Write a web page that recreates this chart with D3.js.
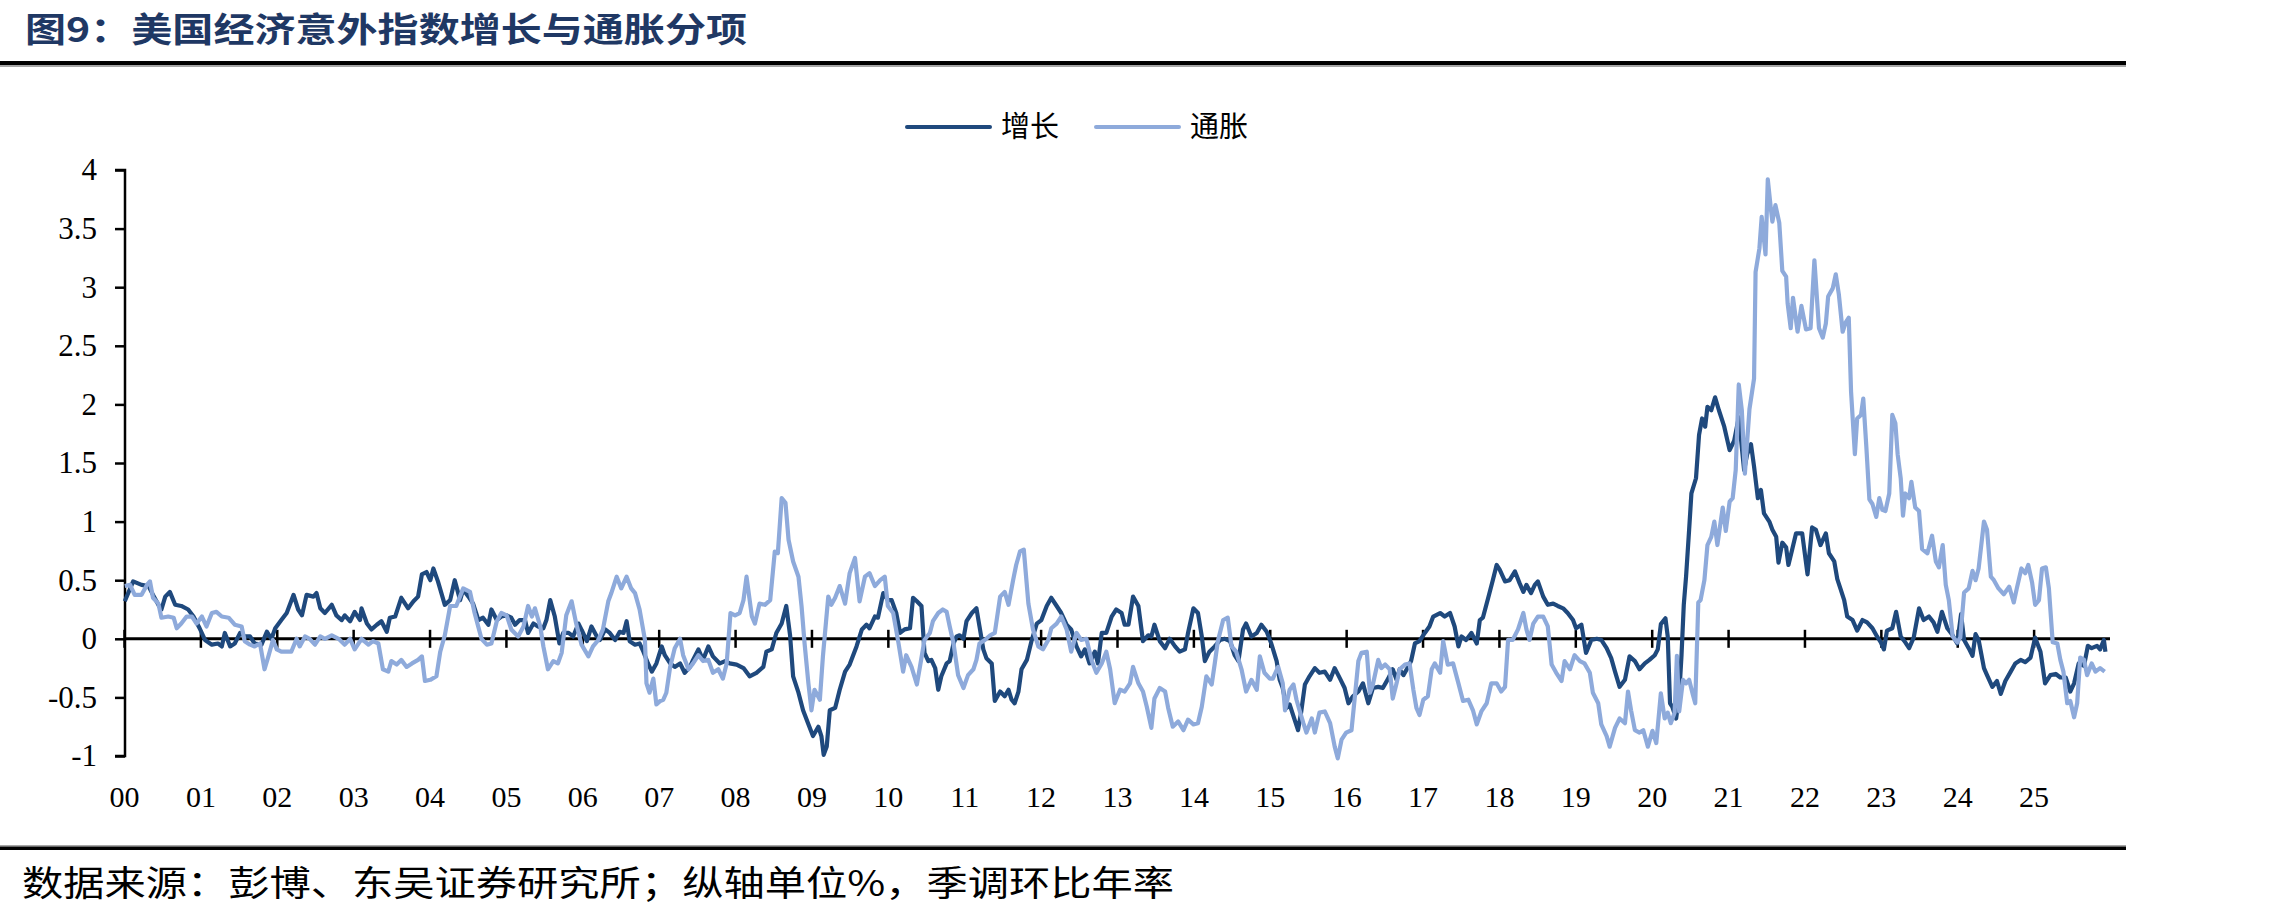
<!DOCTYPE html>
<html>
<head>
<meta charset="utf-8">
<script src="https://cdn.jsdelivr.net/npm/d3@7"></script>
<style>
  body { margin: 0; background: #fff; }
  svg { display: block; }
</style>
</head>
<body>
<svg id="main" width="2280" height="918"></svg>
<script>
// years since 2000 / surprise index value (%)
const xTickLabels = ["00","01","02","03","04","05","06","07","08","09","10","11","12","13","14","15","16","17","18","19","20","21","22","23","24","25"];
const yTicks = [-1, -0.5, 0, 0.5, 1, 1.5, 2, 2.5, 3, 3.5, 4];
const seriesNames = ["增长", "通胀"];

const growth = [
  [0.01,0.32],[0.12,0.49],[0.23,0.46],[0.32,0.45],[0.38,0.375],[0.45,0.29],[0.49,0.25],[0.54,0.36],[0.60,0.40],[0.67,0.29],[0.75,0.28],[0.84,0.25],[0.91,0.19],[0.99,0.09],
  [1.06,-0.01],[1.15,-0.05],[1.23,-0.04],[1.28,-0.065],[1.32,0.05],[1.39,-0.065],[1.45,-0.04],[1.52,0.05],[1.58,0.02],[1.65,0.02],[1.71,-0.04],[1.80,-0.05],[1.87,0.06],[1.93,0.0],[1.98,0.09],
  [2.06,0.16],[2.13,0.22],[2.22,0.375],[2.28,0.25],[2.33,0.2],[2.39,0.375],[2.48,0.36],[2.52,0.39],[2.57,0.26],[2.63,0.22],[2.72,0.29],[2.78,0.2],[2.85,0.16],[2.89,0.2],[2.96,0.15],
  [3.02,0.23],[3.09,0.16],[3.11,0.26],[3.18,0.13],[3.24,0.08],[3.31,0.12],[3.37,0.15],[3.44,0.06],[3.48,0.18],[3.55,0.19],[3.63,0.35],[3.72,0.26],[3.79,0.32],[3.85,0.36],[3.90,0.55],[3.96,0.57],
  [4.01,0.5],[4.05,0.6],[4.11,0.49],[4.20,0.29],[4.27,0.33],[4.33,0.5],[4.40,0.33],[4.44,0.42],[4.51,0.36],[4.57,0.30],[4.64,0.16],[4.70,0.18],[4.77,0.12],[4.81,0.25],[4.88,0.16],[4.94,0.19],
  [5.01,0.2],[5.07,0.18],[5.12,0.12],[5.18,0.16],[5.25,0.16],[5.29,0.05],[5.36,0.13],[5.42,0.105],[5.49,0.09],[5.53,0.16],[5.58,0.33],[5.64,0.19],[5.70,-0.04],[5.75,0.05],[5.82,0.05],[5.88,0.02],[5.95,0.13],
  [6.01,0.05],[6.06,-0.02],[6.12,0.105],[6.19,0.02],[6.23,-0.01],[6.30,0.08],[6.36,0.05],[6.43,-0.01],[6.49,0.06],[6.54,0.05],[6.58,0.15],[6.62,-0.02],[6.69,-0.05],[6.75,-0.04],[6.80,-0.11],[6.86,-0.21],[6.91,-0.28],[6.97,-0.21],
  [7.04,-0.065],[7.08,-0.14],[7.15,-0.21],[7.21,-0.24],[7.28,-0.21],[7.34,-0.29],[7.41,-0.24],[7.45,-0.18],[7.52,-0.09],[7.58,-0.18],[7.65,-0.065],[7.71,-0.15],[7.80,-0.21],[7.87,-0.19],[7.93,-0.21],
  [8.02,-0.22],[8.11,-0.25],[8.19,-0.32],[8.28,-0.29],[8.37,-0.24],[8.41,-0.11],[8.48,-0.09],[8.54,0.05],[8.61,0.13],[8.67,0.28],[8.72,0.03],[8.76,-0.32],[8.83,-0.46],[8.89,-0.61],[8.96,-0.73],
  [9.02,-0.83],[9.09,-0.75],[9.13,-0.83],[9.16,-0.99],[9.20,-0.92],[9.24,-0.61],[9.31,-0.59],[9.37,-0.435],[9.44,-0.28],[9.50,-0.22],[9.59,-0.065],[9.66,0.08],[9.72,0.12],[9.76,0.09],[9.83,0.19],[9.87,0.18],[9.94,0.39],
  [10.00,0.33],[10.05,0.33],[10.11,0.22],[10.16,0.05],[10.22,0.08],[10.29,0.09],[10.33,0.35],[10.38,0.32],[10.44,0.28],[10.48,-0.12],[10.53,-0.19],[10.57,-0.18],[10.62,-0.25],[10.66,-0.435],[10.70,-0.32],[10.77,-0.21],[10.81,-0.19],[10.86,-0.04],[10.90,0.02],[10.94,0.03],[10.99,0.0],
  [11.03,0.15],[11.10,0.22],[11.16,0.26],[11.20,0.105],[11.25,-0.09],[11.29,-0.165],[11.36,-0.21],[11.40,-0.53],[11.47,-0.45],[11.53,-0.49],[11.58,-0.435],[11.62,-0.52],[11.66,-0.55],[11.71,-0.45],[11.75,-0.26],[11.82,-0.18],[11.88,-0.02],[11.95,0.13],
  [12.01,0.16],[12.08,0.28],[12.14,0.35],[12.21,0.28],[12.27,0.22],[12.34,0.12],[12.40,0.08],[12.47,-0.065],[12.53,-0.15],[12.58,-0.09],[12.64,-0.21],[12.71,-0.11],[12.75,-0.21],[12.80,0.05],[12.86,0.05],[12.93,0.19],[12.99,0.25],
  [13.06,0.22],[13.10,0.12],[13.15,0.12],[13.21,0.36],[13.28,0.28],[13.34,-0.02],[13.41,0.03],[13.45,0.02],[13.49,0.12],[13.56,-0.02],[13.63,-0.08],[13.69,0.0],[13.76,-0.065],[13.82,-0.11],[13.89,-0.09],[13.93,0.05],
  [14.00,0.26],[14.06,0.22],[14.11,0.02],[14.15,-0.19],[14.21,-0.11],[14.28,-0.065],[14.35,-0.01],[14.41,0.0],[14.48,-0.02],[14.54,-0.14],[14.59,-0.19],[14.65,0.08],[14.69,0.13],[14.76,0.02],[14.83,0.05],[14.89,0.12],[14.96,0.06],
  [15.02,-0.04],[15.09,-0.19],[15.13,-0.35],[15.17,-0.42],[15.22,-0.59],[15.26,-0.56],[15.31,-0.66],[15.37,-0.78],[15.41,-0.63],[15.46,-0.39],[15.52,-0.32],[15.59,-0.25],[15.65,-0.29],[15.72,-0.28],[15.79,-0.35],[15.85,-0.25],[15.92,-0.34],[15.98,-0.42],
  [16.03,-0.55],[16.09,-0.49],[16.16,-0.45],[16.22,-0.38],[16.29,-0.55],[16.35,-0.42],[16.42,-0.41],[16.48,-0.42],[16.55,-0.34],[16.61,-0.26],[16.66,-0.35],[16.70,-0.26],[16.75,-0.31],[16.81,-0.24],[16.85,-0.19],[16.90,-0.04],[16.96,-0.02],
  [17.03,0.05],[17.09,0.105],[17.14,0.19],[17.23,0.22],[17.29,0.19],[17.36,0.22],[17.42,0.105],[17.47,-0.065],[17.51,0.02],[17.57,-0.01],[17.64,0.05],[17.71,-0.04],[17.75,0.16],[17.79,0.18],[17.86,0.35],[17.92,0.50],[17.97,0.63],
  [18.01,0.59],[18.08,0.49],[18.14,0.50],[18.21,0.575],[18.27,0.475],[18.32,0.40],[18.36,0.46],[18.42,0.39],[18.47,0.46],[18.51,0.49],[18.58,0.36],[18.64,0.29],[18.71,0.30],[18.77,0.28],[18.84,0.26],[18.90,0.22],[18.97,0.16],
  [19.01,0.09],[19.08,0.12],[19.14,-0.12],[19.21,-0.01],[19.28,0.0],[19.34,-0.01],[19.41,-0.08],[19.47,-0.165],[19.52,-0.28],[19.58,-0.41],[19.65,-0.35],[19.71,-0.15],[19.78,-0.19],[19.84,-0.26],[19.91,-0.21],[19.97,-0.18],
  [20.04,-0.14],[20.08,-0.09],[20.12,0.125],[20.18,0.175],[20.21,0.02],[20.24,-0.55],[20.27,-0.58],[20.32,-0.68],[20.36,-0.48],[20.39,-0.145],[20.42,0.29],[20.45,0.53],[20.49,0.93],[20.52,1.24],[20.58,1.37],[20.62,1.74],[20.66,1.88],[20.70,1.81],[20.73,1.98],[20.78,1.95],[20.83,2.06],[20.88,1.95],[20.95,1.81],
  [21.02,1.61],[21.08,1.69],[21.14,1.89],[21.21,1.44],[21.25,1.575],[21.30,1.66],[21.34,1.47],[21.39,1.20],[21.43,1.27],[21.47,1.07],[21.54,1.00],[21.58,0.93],[21.63,0.87],[21.66,0.65],[21.71,0.82],[21.76,0.78],[21.79,0.63],[21.84,0.765],[21.89,0.90],[21.97,0.90],
  [22.04,0.55],[22.10,0.95],[22.15,0.93],[22.21,0.80],[22.28,0.90],[22.32,0.73],[22.39,0.66],[22.43,0.51],[22.47,0.43],[22.52,0.33],[22.56,0.19],[22.63,0.16],[22.69,0.07],[22.76,0.16],[22.82,0.14],[22.89,0.09],[22.95,0.02],
  [23.00,-0.03],[23.04,-0.09],[23.08,0.07],[23.15,0.09],[23.20,0.23],[23.26,0.02],[23.32,-0.03],[23.37,-0.08],[23.43,0.01],[23.50,0.26],[23.56,0.16],[23.63,0.19],[23.69,0.14],[23.74,0.06],[23.80,0.23],[23.87,0.09],[23.93,0.04],
  [24.00,-0.04],[24.05,0.21],[24.09,-0.01],[24.15,-0.08],[24.20,-0.145],[24.24,0.04],[24.28,-0.01],[24.35,-0.25],[24.39,-0.31],[24.46,-0.41],[24.52,-0.36],[24.57,-0.47],[24.63,-0.36],[24.70,-0.28],[24.76,-0.21],[24.83,-0.18],[24.89,-0.20],[24.96,-0.16],
  [25.02,0.01],[25.09,-0.11],[25.15,-0.38],[25.22,-0.31],[25.29,-0.30],[25.35,-0.33],[25.42,-0.33],[25.48,-0.45],[25.53,-0.38],[25.59,-0.21],[25.66,-0.23],[25.71,-0.06],[25.76,-0.08],[25.83,-0.06],[25.87,-0.09],[25.92,-0.01],[25.94,-0.11]
];

const inflation = [
  [0.01,0.45],[0.08,0.46],[0.14,0.375],[0.23,0.375],[0.30,0.46],[0.34,0.49],[0.38,0.35],[0.45,0.30],[0.49,0.18],[0.58,0.19],[0.65,0.18],[0.69,0.09],[0.75,0.13],[0.82,0.19],[0.89,0.19],[0.95,0.13],
  [1.02,0.19],[1.08,0.105],[1.15,0.22],[1.21,0.23],[1.28,0.19],[1.37,0.18],[1.45,0.12],[1.54,0.105],[1.58,-0.02],[1.65,-0.05],[1.71,-0.065],[1.78,-0.04],[1.84,-0.26],[1.89,-0.15],[1.95,-0.01],
  [2.00,-0.09],[2.06,-0.11],[2.13,-0.11],[2.19,-0.11],[2.26,0.0],[2.30,-0.065],[2.37,0.02],[2.43,0.0],[2.50,-0.05],[2.57,0.02],[2.63,0.0],[2.72,0.03],[2.81,0.0],[2.89,-0.05],[2.96,0.0],
  [3.02,-0.09],[3.11,0.0],[3.20,-0.05],[3.26,-0.02],[3.33,-0.04],[3.39,-0.26],[3.46,-0.28],[3.50,-0.19],[3.57,-0.22],[3.63,-0.18],[3.70,-0.24],[3.77,-0.21],[3.85,-0.18],[3.90,-0.15],[3.94,-0.36],
  [4.01,-0.35],[4.09,-0.32],[4.14,-0.11],[4.20,0.03],[4.27,0.28],[4.35,0.28],[4.44,0.43],[4.53,0.40],[4.59,0.22],[4.68,0.0],[4.75,-0.05],[4.81,-0.04],[4.88,0.15],[4.94,0.22],
  [5.01,0.2],[5.07,0.08],[5.16,0.02],[5.23,0.105],[5.29,0.28],[5.34,0.19],[5.38,0.26],[5.45,0.105],[5.49,-0.065],[5.55,-0.26],[5.62,-0.19],[5.68,-0.21],[5.73,-0.12],[5.79,0.2],[5.86,0.32],[5.92,0.13],[5.99,-0.05],
  [6.08,-0.15],[6.14,-0.065],[6.21,-0.01],[6.27,0.08],[6.34,0.32],[6.38,0.39],[6.45,0.53],[6.51,0.43],[6.58,0.53],[6.64,0.43],[6.69,0.39],[6.75,0.25],[6.82,-0.01],[6.84,-0.38],[6.88,-0.46],[6.93,-0.34],[6.97,-0.56],
  [7.02,-0.53],[7.06,-0.52],[7.10,-0.46],[7.15,-0.24],[7.21,-0.08],[7.28,0.0],[7.32,-0.14],[7.39,-0.26],[7.45,-0.21],[7.52,-0.14],[7.58,-0.19],[7.65,-0.18],[7.71,-0.29],[7.78,-0.26],[7.84,-0.34],[7.89,-0.21],[7.94,0.22],
  [8.00,0.2],[8.06,0.22],[8.11,0.33],[8.15,0.53],[8.22,0.19],[8.26,0.13],[8.32,0.30],[8.39,0.29],[8.46,0.33],[8.52,0.745],[8.56,0.73],[8.61,1.2],[8.66,1.16],[8.70,0.845],[8.76,0.66],[8.83,0.53],[8.87,0.28],[8.91,-0.04],[8.96,-0.38],
  [9.00,-0.61],[9.04,-0.435],[9.11,-0.52],[9.15,-0.15],[9.22,0.36],[9.26,0.29],[9.31,0.35],[9.37,0.45],[9.44,0.30],[9.50,0.56],[9.57,0.69],[9.63,0.32],[9.70,0.53],[9.76,0.56],[9.83,0.45],[9.90,0.50],[9.96,0.53],
  [10.00,0.28],[10.07,0.22],[10.14,-0.04],[10.20,-0.28],[10.24,-0.14],[10.31,-0.24],[10.38,-0.39],[10.42,-0.24],[10.48,-0.01],[10.55,0.05],[10.59,0.15],[10.66,0.22],[10.72,0.25],[10.77,0.23],[10.81,0.105],[10.86,-0.04],[10.92,-0.31],[10.99,-0.42],
  [11.05,-0.31],[11.12,-0.26],[11.16,-0.18],[11.20,-0.04],[11.27,-0.01],[11.34,0.03],[11.40,0.05],[11.47,0.36],[11.53,0.40],[11.58,0.29],[11.64,0.50],[11.68,0.63],[11.73,0.745],[11.78,0.76],[11.84,0.30],[11.90,0.08],[11.97,-0.065],
  [12.03,-0.09],[12.10,-0.01],[12.14,0.09],[12.21,0.13],[12.27,0.19],[12.34,0.08],[12.40,-0.11],[12.47,0.05],[12.53,-0.01],[12.60,0.0],[12.67,-0.19],[12.73,-0.29],[12.80,-0.21],[12.86,-0.11],[12.91,-0.26],[12.97,-0.55],
  [13.04,-0.435],[13.10,-0.45],[13.17,-0.38],[13.21,-0.24],[13.28,-0.38],[13.34,-0.45],[13.39,-0.58],[13.45,-0.76],[13.49,-0.51],[13.56,-0.42],[13.63,-0.45],[13.67,-0.59],[13.73,-0.75],[13.80,-0.705],[13.87,-0.78],[13.93,-0.69],
  [14.00,-0.73],[14.06,-0.72],[14.11,-0.58],[14.17,-0.32],[14.24,-0.39],[14.28,-0.21],[14.32,-0.02],[14.39,0.16],[14.45,0.18],[14.50,-0.065],[14.56,-0.11],[14.63,-0.26],[14.69,-0.45],[14.76,-0.35],[14.83,-0.435],[14.87,-0.15],[14.93,-0.29],
  [15.00,-0.34],[15.04,-0.34],[15.11,-0.24],[15.17,-0.38],[15.20,-0.61],[15.26,-0.435],[15.31,-0.39],[15.35,-0.52],[15.39,-0.61],[15.44,-0.72],[15.48,-0.80],[15.55,-0.68],[15.59,-0.80],[15.65,-0.63],[15.72,-0.62],[15.79,-0.72],[15.85,-0.92],[15.89,-1.02],[15.94,-0.86],
  [16.00,-0.80],[16.07,-0.78],[16.11,-0.52],[16.16,-0.19],[16.20,-0.12],[16.27,-0.11],[16.31,-0.46],[16.35,-0.39],[16.42,-0.18],[16.46,-0.25],[16.51,-0.22],[16.57,-0.26],[16.61,-0.51],[16.66,-0.38],[16.70,-0.26],[16.77,-0.22],[16.83,-0.21],[16.88,-0.435],[16.92,-0.59],[16.96,-0.65],
  [17.01,-0.52],[17.07,-0.49],[17.12,-0.26],[17.16,-0.21],[17.23,-0.29],[17.27,-0.02],[17.33,-0.22],[17.40,-0.21],[17.47,-0.38],[17.53,-0.53],[17.60,-0.52],[17.66,-0.61],[17.71,-0.73],[17.77,-0.62],[17.84,-0.55],[17.90,-0.38],[17.97,-0.38],
  [18.03,-0.45],[18.08,-0.41],[18.12,-0.01],[18.18,-0.01],[18.25,0.08],[18.32,0.22],[18.36,0.08],[18.40,-0.01],[18.45,0.13],[18.51,0.19],[18.58,0.19],[18.64,0.105],[18.69,-0.22],[18.75,-0.29],[18.82,-0.36],[18.86,-0.19],[18.93,-0.26],[18.99,-0.14],
  [19.06,-0.19],[19.12,-0.21],[19.19,-0.29],[19.23,-0.46],[19.30,-0.55],[19.34,-0.73],[19.41,-0.83],[19.45,-0.92],[19.52,-0.76],[19.58,-0.68],[19.65,-0.72],[19.69,-0.45],[19.73,-0.61],[19.78,-0.78],[19.84,-0.80],[19.89,-0.78],[19.95,-0.92],
  [20.01,-0.785],[20.06,-0.89],[20.12,-0.465],[20.17,-0.68],[20.21,-0.63],[20.25,-0.72],[20.30,-0.63],[20.33,-0.145],[20.36,-0.62],[20.41,-0.35],[20.45,-0.38],[20.49,-0.35],[20.54,-0.48],[20.57,-0.55],[20.61,0.31],[20.64,0.33],[20.69,0.50],[20.73,0.80],[20.78,0.87],[20.82,1.00],[20.86,0.80],[20.93,1.12],[20.97,0.92],
  [21.02,1.17],[21.06,1.20],[21.10,1.44],[21.14,2.17],[21.18,1.95],[21.22,1.41],[21.28,1.96],[21.34,2.22],[21.36,3.13],[21.41,3.33],[21.44,3.60],[21.49,3.28],[21.52,3.92],[21.56,3.67],[21.58,3.56],[21.62,3.70],[21.67,3.55],[21.71,3.14],[21.76,3.09],[21.78,2.86],[21.82,2.65],[21.85,2.91],[21.91,2.62],[21.96,2.84],
  [22.02,2.64],[22.08,2.65],[22.13,3.23],[22.19,2.65],[22.24,2.57],[22.28,2.69],[22.31,2.92],[22.37,2.99],[22.41,3.11],[22.45,2.94],[22.50,2.62],[22.54,2.70],[22.58,2.74],[22.61,2.11],[22.66,1.575],[22.69,1.88],[22.74,1.91],[22.77,2.05],[22.81,1.64],[22.85,1.19],[22.89,1.15],[22.94,1.04],[22.98,1.20],
  [23.02,1.10],[23.06,1.09],[23.11,1.24],[23.15,1.91],[23.19,1.84],[23.22,1.575],[23.26,1.37],[23.29,1.05],[23.32,1.24],[23.37,1.20],[23.40,1.34],[23.45,1.12],[23.50,1.09],[23.54,0.765],[23.61,0.73],[23.67,0.88],[23.72,0.66],[23.76,0.61],[23.81,0.80],[23.85,0.46],[23.89,0.33],[23.94,0.02],
  [24.00,-0.03],[24.04,0.01],[24.09,0.395],[24.15,0.43],[24.20,0.58],[24.24,0.50],[24.28,0.60],[24.35,1.00],[24.39,0.93],[24.44,0.53],[24.48,0.50],[24.54,0.43],[24.61,0.38],[24.68,0.445],[24.74,0.31],[24.78,0.43],[24.84,0.60],[24.89,0.56],[24.93,0.63],[24.98,0.48],
  [25.02,0.29],[25.07,0.33],[25.11,0.60],[25.16,0.61],[25.20,0.43],[25.25,-0.03],[25.31,-0.04],[25.35,-0.18],[25.39,-0.28],[25.44,-0.55],[25.48,-0.53],[25.53,-0.67],[25.57,-0.55],[25.61,-0.16],[25.66,-0.18],[25.70,-0.31],[25.76,-0.21],[25.81,-0.28],[25.87,-0.25],[25.93,-0.28]
];

const colors = ["#1f497d", "#8eaadb"];
const cjk = "'Noto Sans CJK SC', sans-serif";
const serif = "'Liberation Serif', 'Times New Roman', serif";

function draw() {
    const svg = d3.select("#main");

    const x = d3.scaleLinear().domain([0, 26]).range([124, 2110]);
    const y = d3.scaleLinear().domain([-1, 4]).range([756, 170]);

    // title + rules
    svg.append('text')
        .attr('x', 25).attr('y', 42)
        .attr('font-family', cjk).attr('font-weight', 700)
        .attr('font-size', 34).attr('fill', '#1f3864')
        .attr('textLength', 722).attr('lengthAdjust', 'spacingAndGlyphs')
        .text('图9：美国经济意外指数增长与通胀分项');
    svg.append('rect').attr('x', 0).attr('y', 61).attr('width', 2126).attr('height', 4).attr('fill', '#000');
    svg.append('rect').attr('x', 0).attr('y', 65).attr('width', 2126).attr('height', 2).attr('fill', '#a6a6a6');

    svg.append('rect').attr('x', 0).attr('y', 845).attr('width', 2126).attr('height', 1.5).attr('fill', '#a6a6a6');
    svg.append('rect').attr('x', 0).attr('y', 846.5).attr('width', 2126).attr('height', 3.5).attr('fill', '#000');
    svg.append('text')
        .attr('x', 22).attr('y', 896)
        .attr('font-family', cjk).attr('font-size', 35).attr('fill', '#000')
        .attr('textLength', 1152).attr('lengthAdjust', 'spacingAndGlyphs')
        .text('数据来源：彭博、东吴证券研究所；纵轴单位%，季调环比年率');

    // y axis
    const yAxis = svg.append('g')
        .attr('transform', 'translate(125,0)')
        .call(d3.axisLeft(y).tickValues(yTicks).tickSize(10).tickPadding(18)
            .tickFormat(d => String(d)));
    yAxis.select('.domain').attr('stroke', '#000').attr('stroke-width', 2.5).attr('d', 'M-10,' + y(4) + 'H0V' + y(-1) + 'H-10');
    yAxis.selectAll('.tick line').attr('stroke', '#000').attr('stroke-width', 2.5);
    yAxis.selectAll('.tick text').attr('font-family', serif).attr('font-size', 31).attr('fill', '#000');

    // x axis along zero
    const xAxis = svg.append('g')
        .attr('transform', 'translate(0,' + y(0) + ')')
        .call(d3.axisBottom(x).tickValues(d3.range(0, 26)).tickSize(9)
            .tickFormat(d => xTickLabels[d]));
    xAxis.select('.domain').attr('stroke', '#000').attr('stroke-width', 3).attr('d', 'M' + x(0) + ',0H' + x(26));
    xAxis.selectAll('.tick line').attr('stroke', '#000').attr('stroke-width', 2.5).attr('y1', -9).attr('y2', 9);
    xAxis.selectAll('.tick text').attr('font-family', serif).attr('font-size', 30).attr('fill', '#000')
        .attr('y', 168).attr('dy', 0);

    // lines
    const line = d3.line().x(d => x(d[0])).y(d => y(d[1]));
    [growth, inflation].forEach((s, i) => {
        svg.append('path')
            .datum(s)
            .attr('d', line)
            .attr('fill', 'none')
            .attr('stroke', colors[i])
            .attr('stroke-width', 4.2)
            .attr('stroke-linejoin', 'round');
    });

    // legend
    const legX = [907, 1096];
    seriesNames.forEach((n, i) => {
        svg.append('line')
            .attr('x1', legX[i]).attr('x2', legX[i] + 83)
            .attr('y1', 127).attr('y2', 127)
            .attr('stroke', colors[i]).attr('stroke-width', 4)
            .attr('stroke-linecap', 'round');
        svg.append('text')
            .attr('x', legX[i] + 94).attr('y', 137)
            .attr('font-family', cjk).attr('font-size', 29).attr('fill', '#000')
            .text(n);
    });
}

draw()
</script>
</body>
</html>
